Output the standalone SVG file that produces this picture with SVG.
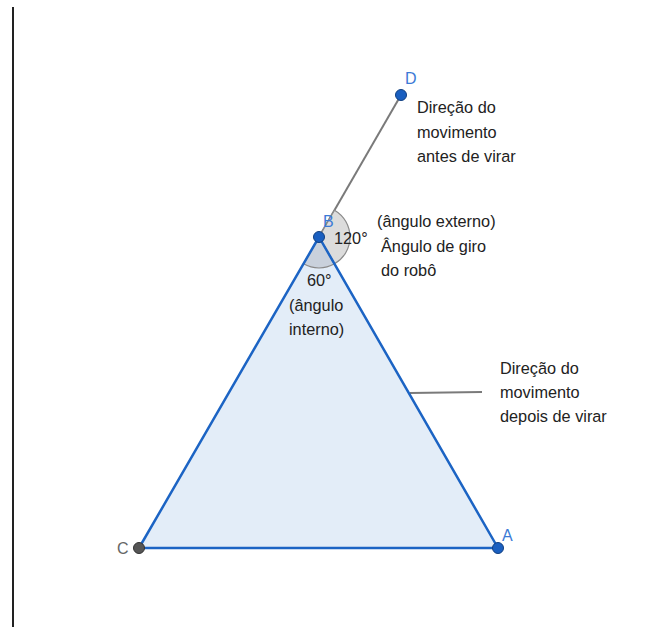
<svg xmlns="http://www.w3.org/2000/svg" width="646" height="627" viewBox="0 0 646 627">
<style>
.lbl{font-family:"Liberation Sans",Arial,sans-serif;font-size:16.3px;fill:#222}
.pt{font-family:"Liberation Sans",Arial,sans-serif;font-size:16px}
.edge{stroke:#1c64c4;stroke-width:2.5;fill:none;stroke-linecap:round}
.grey{stroke:#7a7a7a;stroke-width:2;fill:none}
</style>
<rect width="646" height="627" fill="#fff"/>
<line x1="13" y1="7" x2="13" y2="627" stroke="#222" stroke-width="2"/>
<g id="triangle">
<polygon points="319,237 139,548 498,548" fill="#e3edf8"/>
</g>
<g id="connectors">
<line class="grey" x1="319" y1="237" x2="401" y2="95"/>
<line class="grey" x1="410" y1="393" x2="482" y2="392"/>
</g>
<g id="angles">
<path d="M319,237 L334.5,210.15 A31,31 0 0 1 334.5,263.85 Z" fill="#dcdcdc" stroke="#8a8a8a" stroke-width="1.2"/>
<path d="M319,237 L334.5,263.85 A31,31 0 0 1 303.5,263.85 Z" fill="#c9d1dc" stroke="#8a8a8a" stroke-width="1.2"/>
</g>
<g id="edges">
<line class="edge" x1="319" y1="237" x2="139" y2="548"/>
<line class="edge" x1="319" y1="237" x2="498" y2="548"/>
<line class="edge" x1="139" y1="548" x2="498" y2="548"/>
</g>
<g id="B">
<circle cx="319" cy="237" r="5.5" fill="#1a5fc0" stroke="#113f80" stroke-width="1"/>
<text class="pt" x="323" y="227" fill="#3b7ad6">B</text>
</g>
<g id="D">
<circle cx="401" cy="95" r="5.5" fill="#1a5fc0" stroke="#113f80" stroke-width="1"/>
<text class="pt" x="405" y="84" fill="#3b7ad6">D</text>
</g>
<g id="C">
<circle cx="139" cy="548" r="5.5" fill="#555" stroke="#333" stroke-width="1"/>
<text class="pt" x="117" y="554" fill="#666">C</text>
</g>
<g id="A">
<circle cx="498" cy="548" r="5.5" fill="#1a5fc0" stroke="#113f80" stroke-width="1"/>
<text class="pt" x="502" y="541" fill="#3b7ad6">A</text>
</g>
<g id="labels">
<text class="lbl" x="334" y="244">120°</text>
<text class="lbl" x="377" y="227">(ângulo externo)</text>
<text class="lbl" x="381" y="252">Ângulo de giro</text>
<text class="lbl" x="381" y="276">do robô</text>
<text class="lbl" x="307" y="286">60°</text>
<text class="lbl" x="289" y="311">(ângulo</text>
<text class="lbl" x="289" y="335">interno)</text>
<text class="lbl" x="417" y="113">Direção do</text>
<text class="lbl" x="417" y="138">movimento</text>
<text class="lbl" x="417" y="162">antes de virar</text>
<text class="lbl" x="500" y="374">Direção do</text>
<text class="lbl" x="500" y="398">movimento</text>
<text class="lbl" x="500" y="422">depois de virar</text>
</g>
</svg>
